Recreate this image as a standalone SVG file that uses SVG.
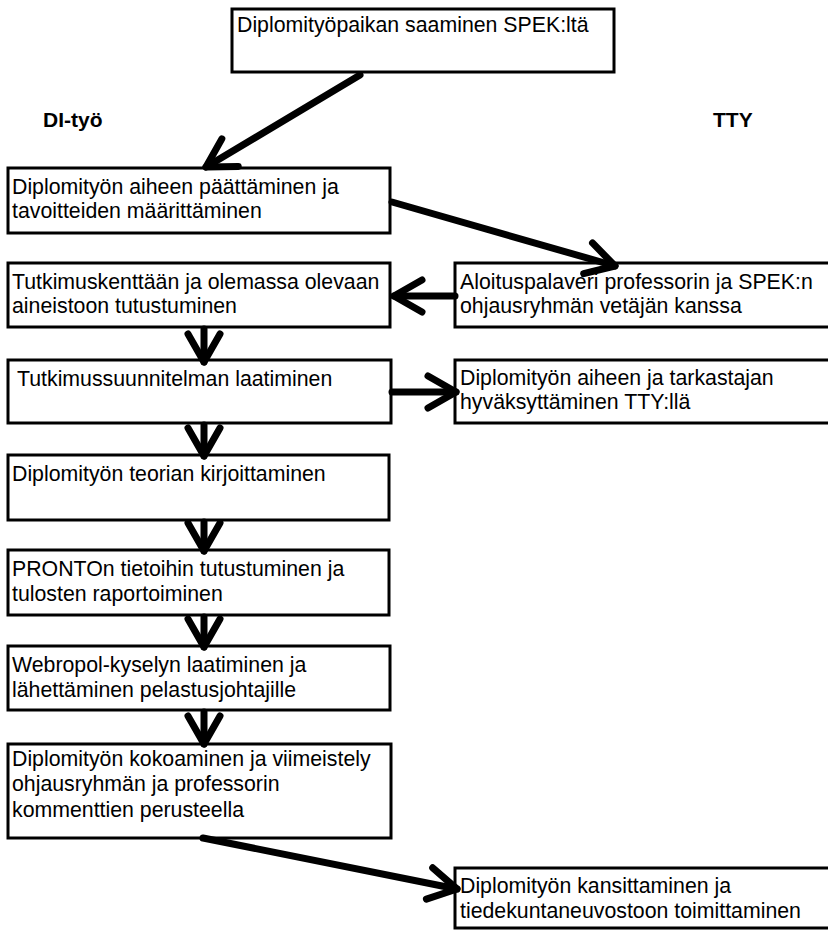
<svg xmlns="http://www.w3.org/2000/svg" width="828" height="932" viewBox="0 0 828 932">
  <style>
    .box { fill: #fff; stroke: #000; stroke-width: 3; }
    .t { font-family: "Liberation Sans", Arial, sans-serif; font-size: 21.3px; fill: #000; }
    .h { font-family: "Liberation Sans", Arial, sans-serif; font-size: 21px; font-weight: bold; fill: #000; }
    .c { fill: none; stroke: #000; stroke-width: 7; stroke-linecap: round; }
  </style>
  <defs>
    <marker id="vee" markerUnits="userSpaceOnUse" viewBox="0 0 34 38" refX="31" refY="19" markerWidth="34" markerHeight="38" orient="auto" overflow="visible">
      <path d="M3,3 L31,19 L3,35" fill="none" stroke="#000" stroke-width="7" stroke-linecap="round" stroke-linejoin="round"/>
    </marker>
  </defs>

  <rect width="828" height="932" fill="#fff"/>

  <!-- column headings -->
  <text class="h" x="43" y="127">DI-työ</text>
  <text class="h" x="713" y="127">TTY</text>

  <g id="n-start">
    <rect class="box" x="232" y="9" width="382" height="63"/>
    <text class="t" x="237" y="32">Diplomityöpaikan saaminen SPEK:ltä</text>
  </g>
  <g id="n-aihe">
    <rect class="box" x="8" y="168" width="382" height="65"/>
    <text class="t" x="12" y="194">Diplomityön aiheen päättäminen ja</text>
    <text class="t" x="12" y="218">tavoitteiden määrittäminen</text>
  </g>
  <g id="n-tutkimuskentta">
    <rect class="box" x="8" y="263" width="382" height="64"/>
    <text class="t" x="12" y="289">Tutkimuskenttään ja olemassa olevaan</text>
    <text class="t" x="12" y="313">aineistoon tutustuminen</text>
  </g>
  <g id="n-suunnitelma">
    <rect class="box" x="8" y="360" width="383" height="63"/>
    <text class="t" x="17" y="386">Tutkimussuunnitelman laatiminen</text>
  </g>
  <g id="n-teoria">
    <rect class="box" x="8" y="455" width="381" height="65"/>
    <text class="t" x="12" y="481">Diplomityön teorian kirjoittaminen</text>
  </g>
  <g id="n-pronto">
    <rect class="box" x="8" y="550" width="381" height="65"/>
    <text class="t" x="12" y="576">PRONTOn tietoihin tutustuminen ja</text>
    <text class="t" x="12" y="601">tulosten raportoiminen</text>
  </g>
  <g id="n-webropol">
    <rect class="box" x="8" y="646" width="382" height="64"/>
    <text class="t" x="12" y="672">Webropol-kyselyn laatiminen ja</text>
    <text class="t" x="12" y="697">lähettäminen pelastusjohtajille</text>
  </g>
  <g id="n-kokoaminen">
    <rect class="box" x="8" y="744" width="383" height="94"/>
    <text class="t" x="12" y="766">Diplomityön kokoaminen ja viimeistely</text>
    <text class="t" x="12" y="791">ohjausryhmän ja professorin</text>
    <text class="t" x="12" y="817">kommenttien perusteella</text>
  </g>
  <g id="n-aloitus">
    <rect class="box" x="455" y="263" width="390" height="64"/>
    <text class="t" x="460" y="289">Aloituspalaveri professorin ja SPEK:n</text>
    <text class="t" x="460" y="313">ohjausryhmän vetäjän kanssa</text>
  </g>
  <g id="n-hyvaksytys">
    <rect class="box" x="455" y="360" width="390" height="63"/>
    <text class="t" x="460" y="385">Diplomityön aiheen ja tarkastajan</text>
    <text class="t" x="460" y="409">hyväksyttäminen TTY:llä</text>
  </g>
  <g id="n-kansitus">
    <rect class="box" x="455" y="868" width="390" height="60"/>
    <text class="t" x="460" y="893">Diplomityön kansittaminen ja</text>
    <text class="t" x="460" y="918">tiedekuntaneuvostoon toimittaminen</text>
  </g>

  <g id="connectors">
    <line class="c" x1="360" y1="75" x2="206" y2="167" marker-end="url(#vee)"/>
    <line class="c" x1="392" y1="202" x2="615" y2="266" marker-end="url(#vee)"/>
    <line class="c" x1="455" y1="296" x2="394" y2="296" marker-end="url(#vee)"/>
    <line class="c" x1="392" y1="392" x2="456" y2="392" marker-end="url(#vee)"/>
    <line class="c" x1="204" y1="329" x2="204" y2="362" marker-end="url(#vee)"/>
    <line class="c" x1="204" y1="425" x2="204" y2="456" marker-end="url(#vee)"/>
    <line class="c" x1="204" y1="522" x2="204" y2="551" marker-end="url(#vee)"/>
    <line class="c" x1="204" y1="617" x2="204" y2="647" marker-end="url(#vee)"/>
    <line class="c" x1="204" y1="712" x2="204" y2="744" marker-end="url(#vee)"/>
    <line class="c" x1="203" y1="838" x2="457" y2="889" marker-end="url(#vee)"/>
  </g>
</svg>
